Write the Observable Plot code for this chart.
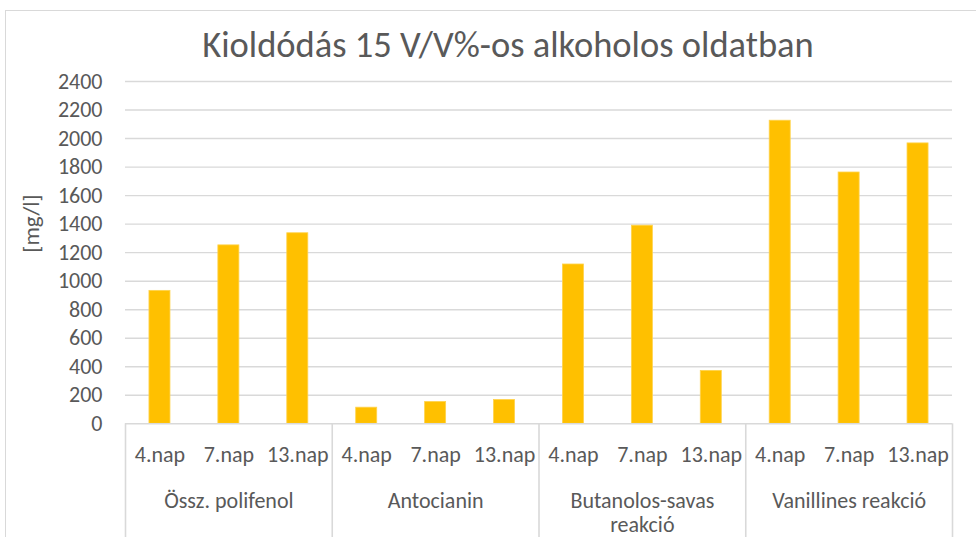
<!DOCTYPE html>
<html>
<head>
<meta charset="utf-8">
<script src="https://cdn.jsdelivr.net/npm/d3@7"></script>
<script src="https://cdn.jsdelivr.net/npm/@observablehq/plot@0.6"></script>
<style>
  html, body { margin: 0; padding: 0; background: #fff; }
  body { width: 976px; height: 537px; position: relative; overflow: hidden; font-family: Carlito, Lato, "Open Sans", sans-serif; }
  #border { position: absolute; left: 5px; top: 10px; width: 1200px; height: 800px; border-left: 1.5px solid #d9d9d9; border-top: 1.5px solid #d9d9d9; box-sizing: border-box; }
  #title { position: absolute; left: 8px; width: 1000px; top: 23px; text-align: center; font-family: Carlito, Lato, sans-serif; font-weight: 300; font-size: 36.5px; line-height: 44px; color: #595959; white-space: nowrap; }
  #chart { position: absolute; left: 0; top: 70px; }
</style>
</head>
<body>
<div id="border"></div>
<div id="title">Kioldódás 15 V/V%-os alkoholos oldatban</div>
<div id="chart"></div>
<script>
const groups = ["Össz. polifenol", "Antocianin", "Butanolos-savas\nreakció", "Vanillines reakció"];
const days = ["4.nap", "7.nap", "13.nap"];
const valuesPolifenol = [932, 1251, 1336];
const valuesAntocianin = [113, 153, 167];
const valuesButanolos = [1117, 1389, 371];
const valuesVanillines = [2125, 1762, 1966];
const yTicks = [0, 200, 400, 600, 800, 1000, 1200, 1400, 1600, 1800, 2000, 2200, 2400];

const seriesByGroup = [valuesPolifenol, valuesAntocianin, valuesButanolos, valuesVanillines];
const rows = [];
groups.forEach((g, gi) => days.forEach((d, di) => rows.push({group: g, day: d, key: gi + "|" + d, value: seriesByGroup[gi][di]})));
const keys = rows.map(r => r.key);
const groupRows = groups.map((g, gi) => ({group: g, first: gi + "|" + days[0], mid: gi + "|" + days[1]}));

const W = 976, H = 467;
const mL = 125, mR = 24, mT = 11, mB = 113.7;
const step = (W - mL - mR) / keys.length;
const textColor = "#595959";
const gridColor = "#d9d9d9";
const fs = 22;

const chart = Plot.plot({
  width: W,
  height: H,
  marginLeft: mL,
  marginRight: mR,
  marginTop: mT,
  marginBottom: mB,
  style: {fontFamily: "Carlito, Lato, sans-serif", color: textColor, background: "transparent", overflow: "visible"},
  x: {domain: keys, paddingInner: 0.695, paddingOuter: 0.3475, round: false, axis: null},
  y: {domain: [0, 2400], ticks: yTicks, axis: null},
  marks: [
    Plot.gridY(yTicks.slice(1), {stroke: gridColor, strokeOpacity: 1, strokeWidth: 1.4}),
    Plot.axisY(yTicks, {tickSize: 0, tickPadding: 23, fontSize: fs, fill: textColor, label: null, tickFormat: d => String(d)}),
    Plot.text(["[mg/l]"], {frameAnchor: "left", rotate: -90, dx: -94, fontSize: 23, fill: textColor}),
    Plot.barY(rows, {x: "key", y: "value", fill: "#FFC000", stroke: "#FFD34D", strokeWidth: 0.8}),
    Plot.ruleY([0], {stroke: gridColor, strokeWidth: 1.6}),
    Plot.ruleX(groupRows, {x: "first", y1: 0, y2: 0, insetBottom: -mB, dx: -step / 2, stroke: gridColor, strokeWidth: 1.6}),
    Plot.ruleX(groupRows.slice(-1), {x: "first", y1: 0, y2: 0, insetBottom: -mB, dx: step * 2.5, stroke: gridColor, strokeWidth: 1.6}),
    Plot.text(rows, {x: "key", text: "day", frameAnchor: "bottom", lineAnchor: "bottom", dy: 38, fontSize: fs, fill: textColor}),
    Plot.text(groupRows, {x: "mid", text: "group", frameAnchor: "bottom", lineAnchor: "top", dy: 82 - 0.71 * fs, fontSize: fs, lineHeight: 1.12, fill: textColor})
  ]
});
document.getElementById("chart").appendChild(chart);
</script>
</body>
</html>
